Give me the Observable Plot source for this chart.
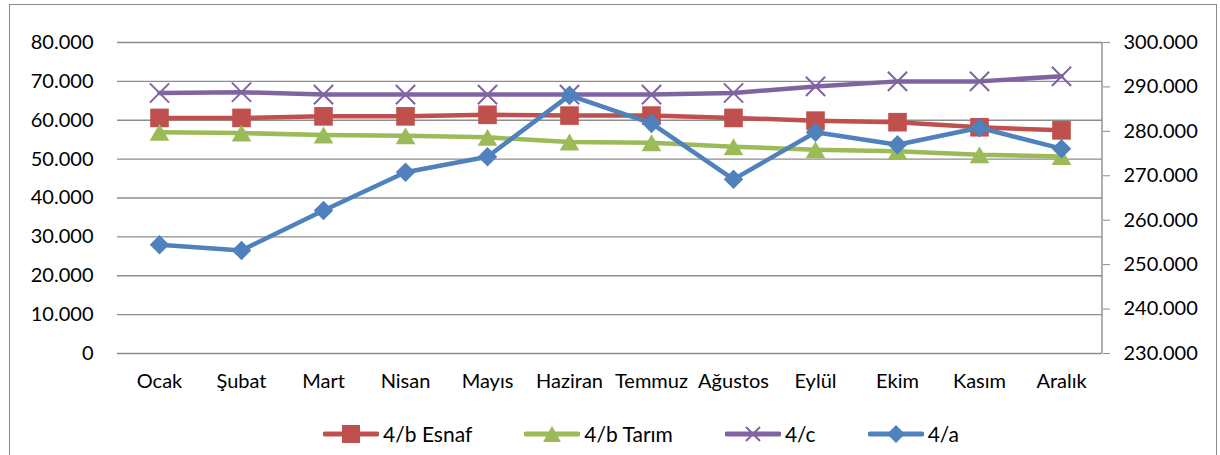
<!DOCTYPE html>
<html>
<head>
<meta charset="utf-8">
<script src="https://cdn.jsdelivr.net/npm/d3@7"></script>
<script src="https://cdn.jsdelivr.net/npm/@observablehq/plot@0.6"></script>
<style>
  html, body { margin: 0; padding: 0; background: #fff; }
  body { width: 1220px; height: 455px; position: relative; overflow: hidden; font-family: Lato, "Open Sans", sans-serif; }
  #frame { position: absolute; left: 9px; top: 4px; width: 1208px; height: 470px; border: 1.5px solid #8c8c8c; box-sizing: border-box; }
  #chart { position: absolute; left: 0; top: 0; }
  #legend { position: absolute; top: 421px; left: 0; width: 1282px; display: flex; justify-content: center; gap: 52px; font-size: 21px; color: #000; }
  .item { display: flex; align-items: center; gap: 4px; }
  .item svg { display: block; }
</style>
</head>
<body>
<div id="frame"></div>
<div id="chart"></div>
<div id="legend"></div>
<script>
const months = ["Ocak","Şubat","Mart","Nisan","Mayıs","Haziran","Temmuz","Ağustos","Eylül","Ekim","Kasım","Aralık"];
const esnaf = [60600,60600,61000,61000,61400,61200,61200,60600,59900,59500,58200,57400];
const tarim = [56900,56700,56200,56000,55600,54400,54200,53200,52400,52000,51100,50700];
const c4    = [67000,67200,66600,66600,66600,66600,66600,67000,68700,70000,70000,71300];
const a4    = [254500,253200,262200,270800,274300,288100,281800,269200,279800,277000,280800,276100];

const leftTicks = [0,10000,20000,30000,40000,50000,60000,70000,80000];
const rightTicks = [230000,240000,250000,260000,270000,280000,290000,300000];
const leftDomain = [0, 80000];
const rightDomain = [230000, 300000];

const seriesNames = ["4/b Esnaf","4/b Tarım","4/c","4/a"];
const colors = {"4/b Esnaf":"#C0504D","4/b Tarım":"#9BBB59","4/c":"#8064A2","4/a":"#4F81BD"};

// map right-axis values into left-axis units
const toLeft = v => (v - rightDomain[0]) / (rightDomain[1] - rightDomain[0]) * (leftDomain[1] - leftDomain[0]) + leftDomain[0];
const fromLeft = v => (v - leftDomain[0]) / (leftDomain[1] - leftDomain[0]) * (rightDomain[1] - rightDomain[0]) + rightDomain[0];
const fmt = v => d3.format(",")(Math.round(v)).replace(/,/g, ".");

const rows = (name, arr, map = d => d) => arr.map((v, i) => ({series: name, month: months[i], value: v, y: map(v)}));
const dEsnaf = rows("4/b Esnaf", esnaf);
const dTarim = rows("4/b Tarım", tarim);
const dC = rows("4/c", c4);
const dA = rows("4/a", a4, toLeft);

const lw = 4.5;
const rightLine = (index, scales, values, dims) => {
  const x = dims.width - dims.marginRight;
  const g = d3.create("svg:g");
  g.append("line").attr("x1", x).attr("x2", x)
    .attr("y1", scales.y(leftDomain[1])).attr("y2", scales.y(leftDomain[0]))
    .attr("stroke", "#8c8c8c").attr("stroke-width", 1.4);
  return g.node();
};

const chart = Plot.plot({
  width: 1220,
  height: 410,
  marginLeft: 117,
  marginRight: 118,
  marginTop: 42,
  marginBottom: 57,
  style: {fontFamily: "Lato, 'Open Sans', sans-serif", fontSize: "20px", color: "#000", background: "transparent"},
  x: {type: "point", domain: months, padding: 0.5, label: null},
  y: {domain: leftDomain, label: null},
  marks: [
    Plot.gridY(leftTicks, {stroke: "#8c8c8c", strokeOpacity: 1, strokeWidth: 1.4}),
    Plot.axisY(leftTicks, {tickSize: 0, tickPadding: 24, tickFormat: fmt, fontSize: 20, label: null}),
    Plot.axisY(rightTicks.map(toLeft), {anchor: "right", tickSize: 7, tickPadding: 14, tickFormat: d => fmt(fromLeft(d)), stroke: "#8c8c8c", fontSize: 20, label: null}),
    rightLine,
    Plot.axisX({tickSize: 0, tickPadding: 20, fontSize: 20, label: null}),
    Plot.line(dEsnaf, {x: "month", y: "y", stroke: colors["4/b Esnaf"], strokeWidth: lw}),
    Plot.dot(dEsnaf, {x: "month", y: "y", symbol: "square", r: 10.5, fill: colors["4/b Esnaf"], stroke: "none"}),
    Plot.line(dTarim, {x: "month", y: "y", stroke: colors["4/b Tarım"], strokeWidth: lw}),
    Plot.dot(dTarim, {x: "month", y: "y", symbol: "triangle", r: 7.3, dy: 2.8, fill: colors["4/b Tarım"], stroke: "none"}),
    Plot.line(dC, {x: "month", y: "y", stroke: colors["4/c"], strokeWidth: lw}),
    Plot.dot(dC, {x: "month", y: "y", symbol: "times", r: 8.8, stroke: colors["4/c"], strokeWidth: 2, fill: "none"}),
    Plot.line(dA, {x: "month", y: "y", stroke: colors["4/a"], strokeWidth: lw}),
    Plot.dot(dA, {x: "month", y: "y", symbol: "diamond2", r: 8.8, fill: colors["4/a"], stroke: "none"})
  ]
});
document.getElementById("chart").append(chart);

// legend
const marker = {
  "4/b Esnaf": `<rect x="19" y="2" width="18" height="18" fill="${colors["4/b Esnaf"]}"/>`,
  "4/b Tarım": `<polygon points="28,3 37,19 19,19" fill="${colors["4/b Tarım"]}"/>`,
  "4/c": `<path d="M21,4 L35,18 M35,4 L21,18" stroke="${colors["4/c"]}" stroke-width="2" fill="none"/>`,
  "4/a": `<polygon points="28,2 37,11 28,20 19,11" fill="${colors["4/a"]}"/>`
};
const legend = document.getElementById("legend");
for (const name of seriesNames) {
  const it = document.createElement("div");
  it.className = "item";
  it.innerHTML = `<svg width="56" height="22" viewBox="0 0 56 22"><line x1="2" x2="54" y1="11" y2="11" stroke="${colors[name]}" stroke-width="5" stroke-linecap="round"/>${marker[name]}</svg><span>${name}</span>`;
  legend.append(it);
}
</script>
</body>
</html>
